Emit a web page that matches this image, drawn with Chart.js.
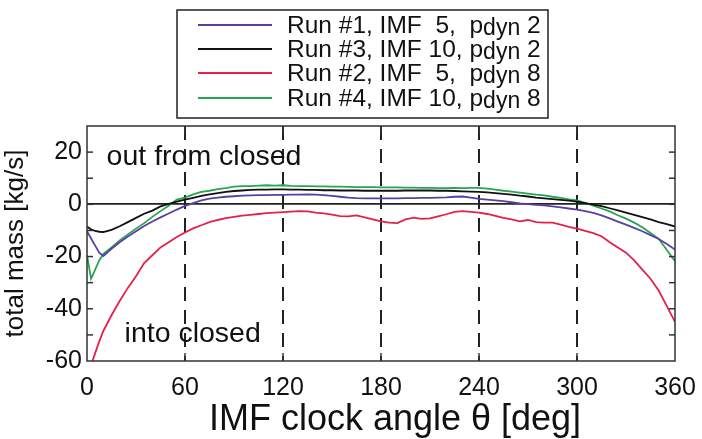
<!DOCTYPE html>
<html>
<head>
<meta charset="utf-8">
<script src="https://cdn.jsdelivr.net/npm/chart.js@4/dist/chart.umd.min.js"></script>
<style>
html,body{margin:0;padding:0;background:#fff;}
canvas{display:block;}
</style>
</head>
<body>
<canvas id="c" width="702" height="439"></canvas>
<script>
// ---- data ----
const angles = [0,2.5,5,7.5,10,15,20,25,30,35,40,45,50,55,60,65,70,75,80,85,90,95,100,105,110,115,120,125,130,135,140,145,150,155,160,165,170,175,180,185,190,195,200,205,210,215,220,225,230,235,240,245,250,255,260,265,270,275,280,285,290,295,300,305,310,315,320,325,330,335,340,345,350,355,360];

const run1 = [-10.3,-13.1,-15.8,-18.5,-19.8,-17.0,-14.5,-12.3,-10.3,-8.3,-6.6,-5.0,-3.5,-2.0,-0.6,0.5,1.5,2.2,2.6,2.9,3.1,3.3,3.4,3.5,3.5,3.6,3.6,3.7,3.7,3.8,3.7,3.5,3.2,2.9,2.6,2.4,2.3,2.3,2.3,2.3,2.3,2.4,2.4,2.5,2.5,2.6,2.7,2.9,3.0,2.6,2.1,1.8,1.5,1.2,0.8,0.4,0.1,-0.2,-0.4,-0.8,-1.2,-1.6,-2.0,-2.6,-3.3,-4.2,-5.4,-6.6,-7.8,-9.0,-10.3,-11.8,-13.3,-15.2,-17.3];

const run3 = [-8.5,-9.6,-10.2,-10.5,-10.6,-9.8,-8.4,-6.8,-5.2,-3.6,-2.4,-0.8,0.2,1.0,1.8,2.5,3.2,3.8,4.3,4.8,5.1,5.3,5.5,5.6,5.6,5.7,5.7,5.6,5.6,5.5,5.5,5.4,5.4,5.3,5.3,5.3,5.2,5.2,5.2,5.2,5.2,5.3,5.3,5.3,5.3,5.2,5.2,5.1,5.0,4.9,4.8,4.6,4.3,4.0,3.7,3.3,3.0,2.6,2.3,2.0,1.7,1.4,1.0,0.5,-0.1,-0.7,-1.5,-2.3,-3.2,-4.0,-4.9,-5.8,-6.8,-7.6,-8.5];

const run2 = [-66,-61.5,-57,-52.5,-48.5,-42.5,-37,-32,-27.5,-22.5,-19.5,-16.5,-14.5,-12.5,-10.8,-9.2,-8.0,-6.8,-6.0,-5.3,-4.8,-4.3,-4.0,-3.7,-3.4,-3.2,-3.0,-2.8,-2.6,-2.7,-3.2,-3.5,-3.9,-4.5,-4.6,-4.2,-5.0,-5.8,-6.5,-7.0,-7.2,-5.8,-5.1,-5.6,-5.4,-4.6,-3.8,-2.9,-2.6,-2.9,-3.2,-3.7,-4.4,-5.2,-5.8,-6.5,-6.0,-6.8,-7.0,-7.0,-7.8,-8.6,-9.3,-10.2,-11.0,-12.2,-14.5,-16.5,-18.5,-21.5,-25,-28.5,-33,-39,-45];

const run4 = [-19.5,-28.5,-25,-21.5,-19,-16.5,-13.8,-11.5,-9.3,-7.2,-4.8,-2.6,-0.5,1.8,2.6,3.8,4.8,5.2,5.8,6.2,6.8,7.0,7.0,7.2,7.3,7.2,7.3,7.1,7.0,7.0,6.9,6.9,6.8,6.8,6.7,6.6,6.6,6.6,6.5,6.5,6.5,6.4,6.4,6.3,6.3,6.2,6.2,6.3,6.2,6.3,6.3,6.0,5.6,5.2,4.9,4.5,4.1,3.7,3.4,2.9,2.5,1.9,1.5,0.6,-0.5,-1.6,-2.7,-4.2,-5.5,-7.0,-8.8,-11.0,-13.2,-17.5,-21.8];

const seriesLabels = ['Run #1, IMF  5,  pdyn 2','Run #3, IMF 10, pdyn 2','Run #2, IMF  5,  pdyn 8','Run #4, IMF 10, pdyn 8'];
const seriesColors = ['#5a3ea6','#111111','#e4214b','#27a552'];
const seriesValues = [run1, run3, run2, run4];

const xTickStep = 60, yTickStep = 10;
const xMin = 0, xMax = 360, yMin = -60, yMax = 30;

const FONT = '"Liberation Sans", Arial, Helvetica, sans-serif';
Chart.defaults.font.family = FONT;
Chart.defaults.color = '#111';

const decor = {
  id: 'decor',
  afterDraw(chart) {
    const {ctx, chartArea: a, scales: {x, y}} = chart;
    ctx.save();
    const seg = (x1, y1, x2, y2) => { ctx.beginPath(); ctx.moveTo(x1, y1); ctx.lineTo(x2, y2); ctx.stroke(); };
    // frame
    ctx.strokeStyle = '#333'; ctx.lineWidth = 1.5; ctx.setLineDash([]);
    ctx.strokeRect(a.left, a.top, a.right - a.left, a.bottom - a.top);
    // inward ticks
    for (let v = yMin + yTickStep; v < yMax; v += yTickStep) {
      const py = y.getPixelForValue(v);
      seg(a.left, py, a.left + 6, py);
      seg(a.right, py, a.right - 6, py);
    }
    for (let v = xMin + xTickStep; v < xMax; v += xTickStep) {
      const px = x.getPixelForValue(v);
      seg(px, a.bottom, px, a.bottom - 8);
      seg(px, a.top, px, a.top + 8);
    }
    // annotations
    ctx.fillStyle = '#111';
    ctx.font = '28.5px ' + FONT;
    ctx.textAlign = 'left'; ctx.textBaseline = 'alphabetic';
    ctx.fillText('out from closed', x.getPixelForValue(12), y.getPixelForValue(15));
    ctx.fillText('into closed', x.getPixelForValue(23), y.getPixelForValue(-52.7));
    // x axis title
    ctx.font = '36px ' + FONT;
    ctx.textAlign = 'center';
    ctx.fillText('IMF clock angle \u03B8 [deg]', 395, 430);
    // legend
    const L = 177, T = 10, R = 548, B = 118;
    ctx.fillStyle = '#fff';
    ctx.fillRect(L, T, R - L, B - T);
    ctx.strokeStyle = '#222'; ctx.lineWidth = 1.5;
    ctx.strokeRect(L, T, R - L, B - T);
    const rows = [25, 49, 73, 98];
    chart.data.datasets.forEach((ds, i) => {
      const ly = rows[i];
      ctx.strokeStyle = ds.borderColor; ctx.lineWidth = 2;
      seg(198, ly, 272, ly);
      ctx.fillStyle = '#111';
      ctx.textAlign = 'left'; ctx.textBaseline = 'alphabetic';
      const label = ds.label;
      const k = label.indexOf('pdyn');
      const base = ly + 8;
      ctx.font = '24.5px ' + FONT;
      let px = 287;
      const pre = label.slice(0, k + 1);
      ctx.fillText(pre, px, base); px += ctx.measureText(pre).width;
      ctx.font = '23px ' + FONT;
      ctx.fillText('dyn', px, base + 2); px += ctx.measureText('dyn').width;
      ctx.font = '24.5px ' + FONT;
      ctx.fillText(label.slice(k + 4), px, base);
    });
    ctx.restore();
  }
};

new Chart(document.getElementById('c'), {
  type: 'line',
  data: {
    datasets: seriesValues.map((vals, i) => ({
      label: seriesLabels[i],
      data: angles.map((a, j) => ({x: a, y: vals[j]})),
      borderColor: seriesColors[i],
      backgroundColor: seriesColors[i],
      borderWidth: 1.8,
      pointRadius: 0,
      pointHoverRadius: 0,
      pointBorderWidth: 0,
      tension: 0,
      fill: false
    }))
  },
  options: {
    responsive: false,
    devicePixelRatio: 1,
    animation: false,
    layout: {autoPadding: false, padding: {top: 126, right: 27, left: 0, bottom: 0}},
    plugins: {legend: {display: false}, tooltip: {enabled: false}},
    scales: {
      x: {
        type: 'linear', min: xMin, max: xMax,
        afterFit(s) { s.height = 78; s.paddingLeft = 0; s.paddingRight = 0; },
        ticks: {stepSize: xTickStep, font: {size: 25}, color: '#111', padding: 12, maxRotation: 0, autoSkip: false},
        grid: {
          drawTicks: false, lineWidth: 2,
          color: c => (c.tick && c.tick.value > xMin && c.tick.value < xMax) ? '#222' : 'rgba(0,0,0,0)'
        },
        border: {display: false, dash: [14, 9]}
      },
      y: {
        min: yMin, max: yMax,
        afterFit(s) { s.width = 87; s.paddingTop = 0; s.paddingBottom = 0; },
        ticks: {stepSize: yTickStep, font: {size: 25}, color: '#111', padding: 5,
          callback: v => (v % 20 === 0) ? String(v) : ''},
        grid: {
          drawTicks: false, lineWidth: 1.8,
          color: c => (c.tick && c.tick.value === 0) ? '#222' : 'rgba(0,0,0,0)'
        },
        border: {display: false},
        title: {display: true, text: 'total mass [kg/s]', font: {size: 26}, color: '#111', padding: 0}
      }
    }
  },
  plugins: [decor]
});
</script>
</body>
</html>
